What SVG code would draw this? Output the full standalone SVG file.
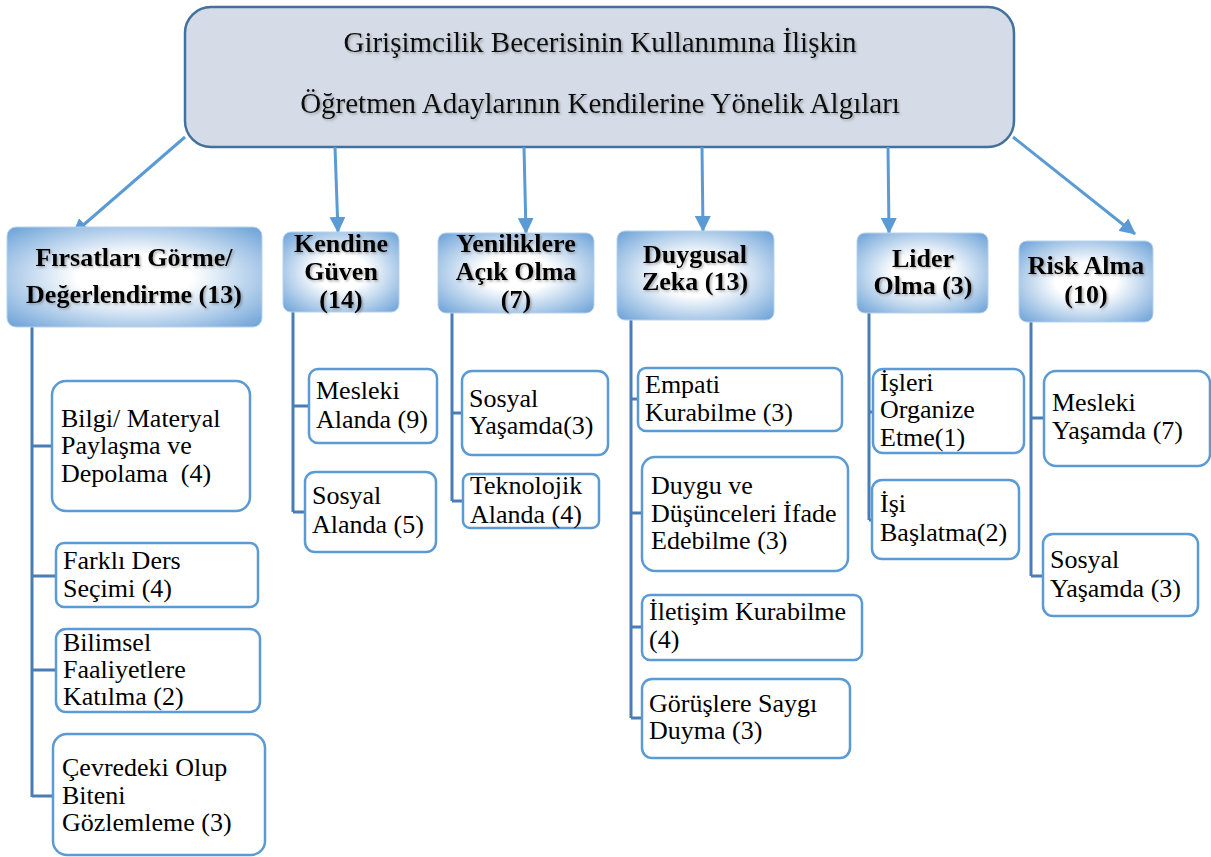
<svg xmlns="http://www.w3.org/2000/svg" width="1211" height="857" viewBox="0 0 1211 857">
<defs>
<radialGradient id="catGrad" cx="0.5" cy="0.5" r="0.75">
<stop offset="0" stop-color="#ffffff"/>
<stop offset="0.3" stop-color="#ffffff"/>
<stop offset="1" stop-color="#5b97d3"/>
</radialGradient>
<filter id="shadow" x="-10%" y="-10%" width="120%" height="130%">
<feDropShadow dx="1.5" dy="1.5" stdDeviation="1" flood-color="#555555" flood-opacity="0.45"/>
</filter>
<marker id="arrow" markerUnits="userSpaceOnUse" markerWidth="16" markerHeight="16" refX="15" refY="8" orient="auto">
<path d="M0,0 L16,8 L0,16 z" fill="#5b9bd5"/>
</marker>
</defs>
<style>
.title{font-family:"Liberation Serif","Times New Roman",serif;font-size:29px;fill:#111;text-anchor:middle}
.cat rect{fill:url(#catGrad);stroke:#b7d2ec;stroke-width:1}
.cat text{font-family:"Liberation Serif","Times New Roman",serif;font-size:26px;font-weight:bold;fill:#000;text-anchor:middle}
.leaf rect{fill:#ffffff;stroke:#5b9bd5;stroke-width:2.5}
.leaf text{font-family:"Liberation Serif","Times New Roman",serif;font-size:26px;fill:#000}
.arr{stroke:#5b9bd5;stroke-width:3;fill:none}
.tree{stroke:#4a7db5;stroke-width:3;fill:none}
</style>

<g id="root">
<rect x="185" y="7" width="829" height="140" rx="26" fill="#d5dce7" stroke="#41719c" stroke-width="2.5"/>
<g filter="url(#shadow)">
<text class="title" x="600" y="52">Girişimcilik Becerisinin Kullanımına İlişkin</text>
<text class="title" x="600" y="113">Öğretmen Adaylarının Kendilerine Yönelik Algıları</text>
</g>
</g>

<g id="connectors">
<line class="arr" x1="185" y1="137" x2="73" y2="234" marker-end="url(#arrow)"/>
<line class="arr" x1="335" y1="147" x2="338" y2="232" marker-end="url(#arrow)"/>
<line class="arr" x1="524" y1="147" x2="526" y2="233" marker-end="url(#arrow)"/>
<line class="arr" x1="702" y1="147" x2="703" y2="231" marker-end="url(#arrow)"/>
<line class="arr" x1="888" y1="147" x2="889" y2="233" marker-end="url(#arrow)"/>
<line class="arr" x1="1013" y1="137" x2="1135" y2="234" marker-end="url(#arrow)"/>
<path class="tree" d="M32,327 V797 M32,446 H52 M32,576 H56 M32,670 H56 M32,796 H53"/>
<path class="tree" d="M293,312 V512 M293,406 H309 M293,512 H305"/>
<path class="tree" d="M452,313 V501 M452,413 H462 M452,501 H463"/>
<path class="tree" d="M631,320 V718 M631,399 H638 M631,513 H642 M631,627 H642 M631,718 H642"/>
<path class="tree" d="M869,313 V520 M869,412 H873 M869,520 H872"/>
<path class="tree" d="M1031,322 V576 M1031,418 H1044 M1031,576 H1043"/>
</g>

<g id="cat-firsat" class="cat">
<rect x="7" y="227" width="255" height="100" rx="9"/>
<g filter="url(#shadow)">
<text x="134" y="266">Fırsatları Görme/</text>
<text x="134" y="303">Değerlendirme (13)</text>
</g>
</g>
<g id="cat-kendine" class="cat">
<rect x="283" y="232" width="116" height="80" rx="8"/>
<g filter="url(#shadow)">
<text x="341" y="252">Kendine</text>
<text x="341" y="280">Güven</text>
<text x="341" y="308">(14)</text>
</g>
</g>
<g id="cat-yenilik" class="cat">
<rect x="438" y="233" width="156" height="80" rx="8"/>
<g filter="url(#shadow)">
<text x="516" y="252">Yeniliklere</text>
<text x="516" y="280">Açık Olma</text>
<text x="516" y="308">(7)</text>
</g>
</g>
<g id="cat-duygusal" class="cat">
<rect x="617" y="231" width="157" height="89" rx="8"/>
<g filter="url(#shadow)">
<text x="695" y="263">Duygusal</text>
<text x="695" y="290">Zeka (13)</text>
</g>
</g>
<g id="cat-lider" class="cat">
<rect x="857" y="233" width="131" height="80" rx="8"/>
<g filter="url(#shadow)">
<text x="923" y="267">Lider</text>
<text x="923" y="294">Olma (3)</text>
</g>
</g>
<g id="cat-risk" class="cat">
<rect x="1019" y="241" width="134" height="81" rx="8"/>
<g filter="url(#shadow)">
<text x="1086" y="274">Risk Alma</text>
<text x="1086" y="303">(10)</text>
</g>
</g>

<g id="leaf-bilgi" class="leaf">
<rect x="52" y="381" width="198" height="130" rx="14"/>
<text x="61" y="427">Bilgi/ Materyal</text>
<text x="61" y="454">Paylaşma ve</text>
<text x="61" y="482">Depolama&#160; (4)</text>
</g>
<g id="leaf-farkli" class="leaf">
<rect x="56" y="543" width="202" height="64" rx="8"/>
<text x="63" y="569">Farklı Ders</text>
<text x="63" y="597">Seçimi (4)</text>
</g>
<g id="leaf-bilimsel" class="leaf">
<rect x="56" y="629" width="204" height="83" rx="10"/>
<text x="63" y="651">Bilimsel</text>
<text x="63" y="678">Faaliyetlere</text>
<text x="63" y="705">Katılma (2)</text>
</g>
<g id="leaf-cevre" class="leaf">
<rect x="53" y="734" width="212" height="121" rx="14"/>
<text x="62" y="776">Çevredeki Olup</text>
<text x="62" y="804">Biteni</text>
<text x="62" y="831">Gözlemleme (3)</text>
</g>

<g id="leaf-mesleki-alan" class="leaf">
<rect x="309" y="369" width="128" height="74" rx="9"/>
<text x="316" y="399">Mesleki</text>
<text x="316" y="428">Alanda (9)</text>
</g>
<g id="leaf-sosyal-alan" class="leaf">
<rect x="305" y="472" width="131" height="80" rx="10"/>
<text x="312" y="504">Sosyal</text>
<text x="312" y="533">Alanda (5)</text>
</g>

<g id="leaf-sosyal-yasam1" class="leaf">
<rect x="462" y="371" width="146" height="84" rx="10"/>
<text x="469" y="407">Sosyal</text>
<text x="469" y="434">Yaşamda(3)</text>
</g>
<g id="leaf-teknolojik" class="leaf">
<rect x="463" y="474" width="136" height="54" rx="7"/>
<text x="470" y="494">Teknolojik</text>
<text x="470" y="523">Alanda (4)</text>
</g>

<g id="leaf-empati" class="leaf">
<rect x="638" y="368" width="204" height="63" rx="8"/>
<text x="645" y="393">Empati</text>
<text x="645" y="421">Kurabilme (3)</text>
</g>
<g id="leaf-duygu" class="leaf">
<rect x="642" y="457" width="206" height="114" rx="13"/>
<text x="651" y="494">Duygu ve</text>
<text x="651" y="522">Düşünceleri İfade</text>
<text x="651" y="549">Edebilme (3)</text>
</g>
<g id="leaf-iletisim" class="leaf">
<rect x="642" y="595" width="220" height="65" rx="8"/>
<text x="649" y="620">İletişim Kurabilme</text>
<text x="649" y="648">(4)</text>
</g>
<g id="leaf-gorus" class="leaf">
<rect x="642" y="679" width="208" height="79" rx="10"/>
<text x="649" y="712">Görüşlere Saygı</text>
<text x="649" y="739">Duyma (3)</text>
</g>

<g id="leaf-isleri" class="leaf">
<rect x="873" y="369" width="151" height="84" rx="10"/>
<text x="880" y="391">İşleri</text>
<text x="880" y="418">Organize</text>
<text x="880" y="446">Etme(1)</text>
</g>
<g id="leaf-isi" class="leaf">
<rect x="872" y="480" width="147" height="79" rx="10"/>
<text x="880" y="512">İşi</text>
<text x="880" y="541">Başlatma(2)</text>
</g>

<g id="leaf-mesleki-yasam" class="leaf">
<rect x="1044" y="371" width="166" height="95" rx="12"/>
<text x="1052" y="411">Mesleki</text>
<text x="1052" y="439">Yaşamda (7)</text>
</g>
<g id="leaf-sosyal-yasam2" class="leaf">
<rect x="1043" y="534" width="155" height="82" rx="10"/>
<text x="1050" y="568">Sosyal</text>
<text x="1050" y="597">Yaşamda (3)</text>
</g>
</svg>
